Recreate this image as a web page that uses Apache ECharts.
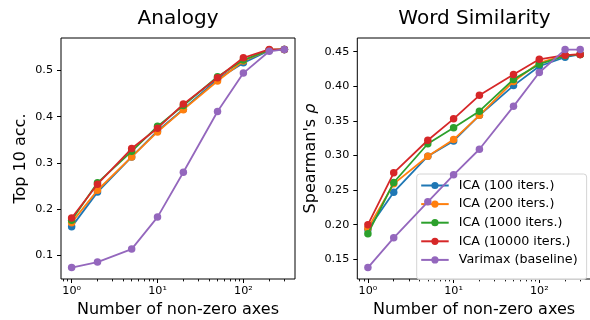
<!DOCTYPE html>
<html>
<head>
<meta charset="utf-8">
<script src="https://cdn.jsdelivr.net/npm/echarts@6/dist/echarts.min.js"></script>
<style>
html, body { margin: 0; padding: 0; background: #fff; }
#chart { width: 590px; height: 320px; }
</style>
</head>
<body>
<div id="chart"></div>
<script>
// number of non-zero axes (x positions, shown on a log10 axis)
var axesCounts = [1, 2, 5, 10, 20, 50, 100, 200, 300];
var seriesNames = ['ICA (100 iters.)', 'ICA (200 iters.)', 'ICA (1000 iters.)', 'ICA (10000 iters.)', 'Varimax (baseline)'];
var colors = ['#1f77b4', '#ff7f0e', '#2ca02c', '#d62728', '#9467bd'];

// Analogy: top 10 acc.
var analogyIca100 = [0.162, 0.237, 0.313, 0.369, 0.416, 0.481, 0.516, 0.543, 0.545];
var analogyIca200 = [0.171, 0.241, 0.313, 0.367, 0.415, 0.477, 0.520, 0.544, 0.545];
var analogyIca1000 = [0.176, 0.257, 0.325, 0.379, 0.424, 0.486, 0.522, 0.544, 0.545];
var analogyIca10000 = [0.181, 0.254, 0.331, 0.375, 0.427, 0.484, 0.527, 0.545, 0.545];
var analogyVarimax = [0.074, 0.086, 0.114, 0.183, 0.280, 0.411, 0.494, 0.541, 0.545];

// Word similarity: Spearman's rho
var simIca100 = [0.193, 0.247, 0.299, 0.321, 0.358, 0.401, 0.429, 0.442, 0.446];
var simIca200 = [0.195, 0.259, 0.299, 0.323, 0.358, 0.407, 0.434, 0.445, 0.446];
var simIca1000 = [0.187, 0.261, 0.317, 0.340, 0.364, 0.410, 0.432, 0.444, 0.446];
var simIca10000 = [0.200, 0.275, 0.322, 0.353, 0.387, 0.417, 0.439, 0.445, 0.446];
var simVarimax = [0.138, 0.181, 0.233, 0.272, 0.309, 0.371, 0.420, 0.453, 0.453];

var xMajorTicks = [1, 10, 100];
var xMinorTicks = [0.8, 0.9, 2, 3, 4, 5, 6, 7, 8, 9, 20, 30, 40, 50, 60, 70, 80, 90, 200, 300];
var analogyTicks = [0.1, 0.2, 0.3, 0.4, 0.5];
var simTicks = [0.15, 0.20, 0.25, 0.30, 0.35, 0.40, 0.45];

var font = 'DejaVu Sans';
var sup = {'0': '\u2070', '1': '\u00b9', '2': '\u00b2'};

// the x axis is a value axis in log10 space (the library's log axis snaps custom ticks to decades)
function lg(v) { return Math.log10(v); }

function pairs(vals) {
    return axesCounts.map(function (x, i) { return [lg(x), vals[i]]; });
}

var xMin = lg(0.7519), xMax = lg(399);

function mainX(grid) {
    return {
        type: 'value', gridIndex: grid, min: xMin, max: xMax, position: 'bottom',
        name: 'Number of non-zero axes', nameLocation: 'middle', nameGap: 22,
        nameTextStyle: {fontFamily: font, fontSize: 16, color: '#000'},
        axisLine: {show: false, onZero: false},
        splitLine: {show: false},
        axisTick: {show: true, length: 4, customValues: xMajorTicks.map(lg), lineStyle: {color: '#000', width: 1}},
        axisLabel: {
            customValues: xMajorTicks.map(lg), margin: 7, fontFamily: font, fontSize: 11.2, color: '#000',
            formatter: function (v) { return '10' + sup[String(Math.round(v))]; }
        }
    };
}

// twin axis on the same grid and range, for the short minor ticks
function minorX(grid) {
    return {
        type: 'value', gridIndex: grid, min: xMin, max: xMax, position: 'bottom',
        axisLine: {show: false, onZero: false},
        splitLine: {show: false},
        axisLabel: {show: false},
        axisTick: {show: true, length: 2.4, customValues: xMinorTicks.map(lg), lineStyle: {color: '#000', width: 0.9}}
    };
}

function yAxis(grid, min, max, ticks, name, nameGap, digits) {
    return {
        type: 'value', gridIndex: grid, min: min, max: max, position: 'left',
        name: name, nameLocation: 'middle', nameGap: nameGap, nameRotate: 90,
        nameTextStyle: {fontFamily: font, fontSize: 16, color: '#000', rich: {i: {fontFamily: font, fontSize: 16, fontStyle: 'italic'}}},
        axisLine: {show: false, onZero: false},
        splitLine: {show: false},
        axisTick: {show: true, length: 4, customValues: ticks, lineStyle: {color: '#000', width: 1}},
        axisLabel: {
            customValues: ticks, margin: 8, fontFamily: font, fontSize: 11.2, color: '#000',
            formatter: function (v) { return v.toFixed(digits); }
        }
    };
}

function makeSeries(grid, data) {
    return data.map(function (vals, i) {
        var xi = grid * 2 + (i === data.length - 1 ? 1 : 0);
        return {
            name: seriesNames[i], type: 'line', xAxisIndex: xi, yAxisIndex: grid,
            data: pairs(vals), symbol: 'circle', symbolSize: 7.5, showSymbol: true,
            color: colors[i], lineStyle: {width: 1.8, color: colors[i]},
            itemStyle: {color: colors[i]}, animation: false, z: 2 + i
        };
    });
}

var myChart = echarts.init(document.getElementById('chart'), null, {renderer: 'canvas'});

var option = {
    animation: false,
    backgroundColor: '#fff',
    graphic: [
        {type: 'text', x: 178, y: 18.5, style: {text: 'Analogy', fontFamily: font, fontSize: 20, fill: '#000', align: 'center', verticalAlign: 'middle'}},
        {type: 'text', x: 474.5, y: 18.5, style: {text: 'Word Similarity', fontFamily: font, fontSize: 20, fill: '#000', align: 'center', verticalAlign: 'middle'}}
    ],
    grid: [
        {left: 61, top: 38, width: 234, height: 241, show: true, borderColor: '#000', borderWidth: 1, backgroundColor: 'transparent', containLabel: false, outerBoundsMode: 'none'},
        {left: 357.3, top: 38, width: 233.5, height: 241, show: true, borderColor: '#000', borderWidth: 1, backgroundColor: 'transparent', containLabel: false, outerBoundsMode: 'none'}
    ],
    xAxis: [mainX(0), minorX(0), mainX(1), minorX(1)],
    yAxis: [
        yAxis(0, 0.0494, 0.5697, analogyTicks, 'Top 10 acc.', 31.7, 1),
        yAxis(1, 0.1215, 0.4698, simTicks, "Spearman's {i|\u03c1}", 38.8, 2)
    ],
    legend: {
        orient: 'vertical', left: 416.7, top: 174,
        data: seriesNames,
        itemWidth: 27.5, itemHeight: 9, itemGap: 5.6,
        padding: [5, 9, 13, 3.5],
        borderColor: '#d4d4d4', borderWidth: 1, borderRadius: 3,
        backgroundColor: 'rgba(255,255,255,0.8)',
        textStyle: {fontFamily: font, fontSize: 12.7, color: '#000', lineHeight: 13, padding: [0, 0, 0, 5]},
        selectedMode: false
    },
    series: makeSeries(0, [analogyIca100, analogyIca200, analogyIca1000, analogyIca10000, analogyVarimax])
        .concat(makeSeries(1, [simIca100, simIca200, simIca1000, simIca10000, simVarimax]))
};

myChart.setOption(option);
</script>
</body>
</html>
